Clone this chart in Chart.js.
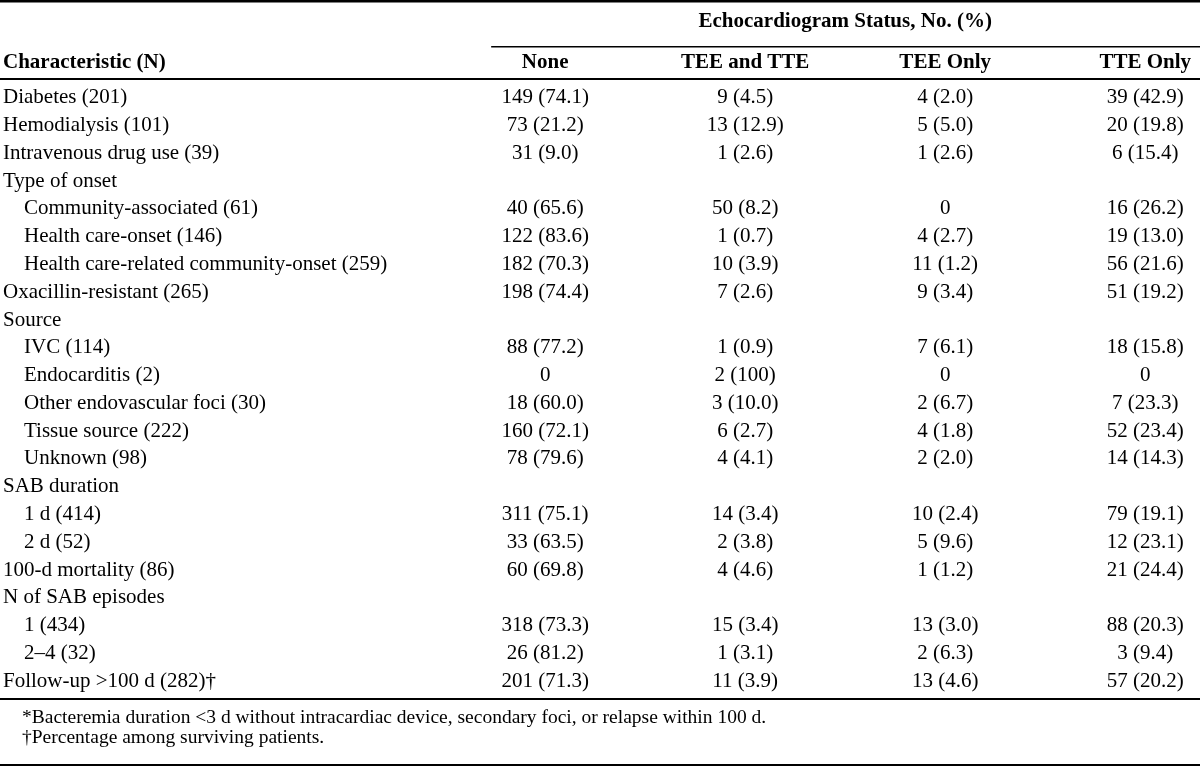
<!DOCTYPE html>
<html>
<head>
<meta charset="utf-8">
<script src="https://cdn.jsdelivr.net/npm/chart.js@4"></script>
<style>
  html, body { margin: 0; padding: 0; background: #fff; }
  canvas { display: block; }
</style>
</head>
<body>
<canvas id="table-chart" width="1200" height="768"></canvas>
<script>
// Stub column: row labels, 1 = indented sub-row
const rowLabels = [
    'Diabetes (201)', 'Hemodialysis (101)', 'Intravenous drug use (39)',
    'Type of onset', 'Community-associated (61)', 'Health care-onset (146)',
    'Health care-related community-onset (259)', 'Oxacillin-resistant (265)',
    'Source', 'IVC (114)', 'Endocarditis (2)', 'Other endovascular foci (30)',
    'Tissue source (222)', 'Unknown (98)', 'SAB duration', '1 d (414)', '2 d (52)',
    '100-d mortality (86)', 'N of SAB episodes', '1 (434)', '2\u20134 (32)',
    'Follow-up >100 d (282)\u2020'
];
const rowIndent = [0, 0, 0, 0, 1, 1, 1, 0, 0, 1, 1, 1, 1, 1, 0, 1, 1, 0, 0, 1, 1, 0];

const columnHeaders = ['None', 'TEE and TTE', 'TEE Only', 'TTE Only'];
const spannerTitle = 'Echocardiogram Status, No. (%)';
const stubTitle = 'Characteristic (N)';

// counts and percentages per column (null = empty cell / no percentage shown)
const noneCounts = [149, 73, 31, null, 40, 122, 182, 198, null, 88, 0, 18, 160, 78, null, 311, 33, 60, null, 318, 26, 201];
const nonePct    = [74.1, 21.2, 9.0, null, 65.6, 83.6, 70.3, 74.4, null, 77.2, null, 60.0, 72.1, 79.6, null, 75.1, 63.5, 69.8, null, 73.3, 81.2, 71.3];
const bothCounts = [9, 13, 1, null, 50, 1, 10, 7, null, 1, 2, 3, 6, 4, null, 14, 2, 4, null, 15, 1, 11];
const bothPct    = [4.5, 12.9, 2.6, null, 8.2, 0.7, 3.9, 2.6, null, 0.9, 100, 10.0, 2.7, 4.1, null, 3.4, 3.8, 4.6, null, 3.4, 3.1, 3.9];
const teeCounts  = [4, 5, 1, null, 0, 4, 11, 9, null, 7, 0, 2, 4, 2, null, 10, 5, 1, null, 13, 2, 13];
const teePct     = [2.0, 5.0, 2.6, null, null, 2.7, 1.2, 3.4, null, 6.1, null, 6.7, 1.8, 2.0, null, 2.4, 9.6, 1.2, null, 3.0, 6.3, 4.6];
const tteCounts  = [39, 20, 6, null, 16, 19, 56, 51, null, 18, 0, 7, 52, 14, null, 79, 12, 21, null, 88, 3, 57];
const ttePct     = [42.9, 19.8, 15.4, null, 26.2, 13.0, 21.6, 19.2, null, 15.8, null, 23.3, 23.4, 14.3, null, 19.1, 23.1, 24.4, null, 20.3, 9.4, 20.2];

const footnotes = [
    '*Bacteremia duration <3 d without intracardiac device, secondary foci, or relapse within 100 d.',
    '\u2020Percentage among surviving patients.'
];

const serif = '"Liberation Serif", "Times New Roman", serif';
Chart.defaults.font.family = serif;
Chart.defaults.color = '#000';

// y labels with the indent for sub-rows
const yLabels = rowLabels.map((l, i) => (rowIndent[i] ? '    ' : '') + l);

function cellText(n, pct) {
    if (pct === null) return String(n);
    return n + ' (' + (pct === 100 ? '100' : pct.toFixed(1)) + ')';
}

function columnPoints(col, counts, pcts) {
    const pts = [];
    counts.forEach((n, i) => {
        if (n === null) return;
        pts.push({ x: col, y: yLabels[i], cell: cellText(n, pcts[i]) });
    });
    return pts;
}

// draws the cell texts, rules, spanner and footnotes
const tableDrawing = {
    id: 'tableDrawing',
    afterDatasetsDraw(chart) {
        const { ctx, chartArea, scales: { x } } = chart;
        const W = chart.width;
        ctx.save();
        ctx.fillStyle = '#000';

        ctx.font = '21px ' + serif;
        ctx.textAlign = 'center';
        ctx.textBaseline = 'middle';
        chart.data.datasets.forEach((ds, di) => {
            chart.getDatasetMeta(di).data.forEach((pt, j) => {
                ctx.fillText(ds.data[j].cell, pt.x, pt.y);
            });
        });

        // spanner header
        ctx.font = 'bold 21px ' + serif;
        ctx.fillText(spannerTitle, x.getPixelForValue(1.5), 22);
        ctx.textAlign = 'left';
        ctx.fillText(stubTitle, 3, 63);

        // rules
        ctx.fillRect(0, 0, W, 2.5);
        ctx.fillRect(x.getPixelForValue(0) - 54, 46, W, 1.5);
        ctx.fillRect(0, chartArea.top - 6, W, 2);
        ctx.fillRect(0, chartArea.bottom + 3, W, 2);
        ctx.fillRect(0, 764, W, 2);

        // footnotes
        ctx.font = '19.5px ' + serif;
        ctx.fillText(footnotes[0], 22, chartArea.bottom + 23);
        ctx.fillText(footnotes[1], 22, chartArea.bottom + 43);
        ctx.restore();
    }
};

const tableChart = new Chart(document.getElementById('table-chart'), {
    type: 'scatter',
    data: {
        datasets: [
            { label: columnHeaders[0], data: columnPoints(0, noneCounts, nonePct) },
            { label: columnHeaders[1], data: columnPoints(1, bothCounts, bothPct) },
            { label: columnHeaders[2], data: columnPoints(2, teeCounts, teePct) },
            { label: columnHeaders[3], data: columnPoints(3, tteCounts, ttePct) }
        ]
    },
    options: {
        responsive: false,
        animation: false,
        events: [],
        layout: { padding: { top: 44, left: 3, right: 0, bottom: 73 } },
        elements: { point: { radius: 0, hoverRadius: 0 } },
        scales: {
            x: {
                type: 'linear',
                position: 'top',
                min: -0.5258,
                max: 3.2440,
                grid: { display: false, drawTicks: false },
                border: { display: false },
                afterBuildTicks(axis) {
                    axis.ticks = columnHeaders.map((h, i) => ({ value: i }));
                },
                afterFit(axis) { axis.height = 40; },
                ticks: {
                    autoSkip: false,
                    maxRotation: 0,
                    padding: 9,
                    font: { size: 21, weight: 'bold' },
                    callback: v => columnHeaders[v]
                }
            },
            y: {
                type: 'category',
                labels: yLabels,
                offset: true,
                grid: { display: false, drawTicks: false },
                border: { display: false },
                afterFit(axis) { axis.width = 437; },
                ticks: {
                    autoSkip: false,
                    crossAlign: 'far',
                    padding: 0,
                    font: { size: 21 }
                }
            }
        },
        plugins: {
            legend: { display: false },
            tooltip: { enabled: false }
        }
    },
    plugins: [tableDrawing]
});
</script>
</body>
</html>
